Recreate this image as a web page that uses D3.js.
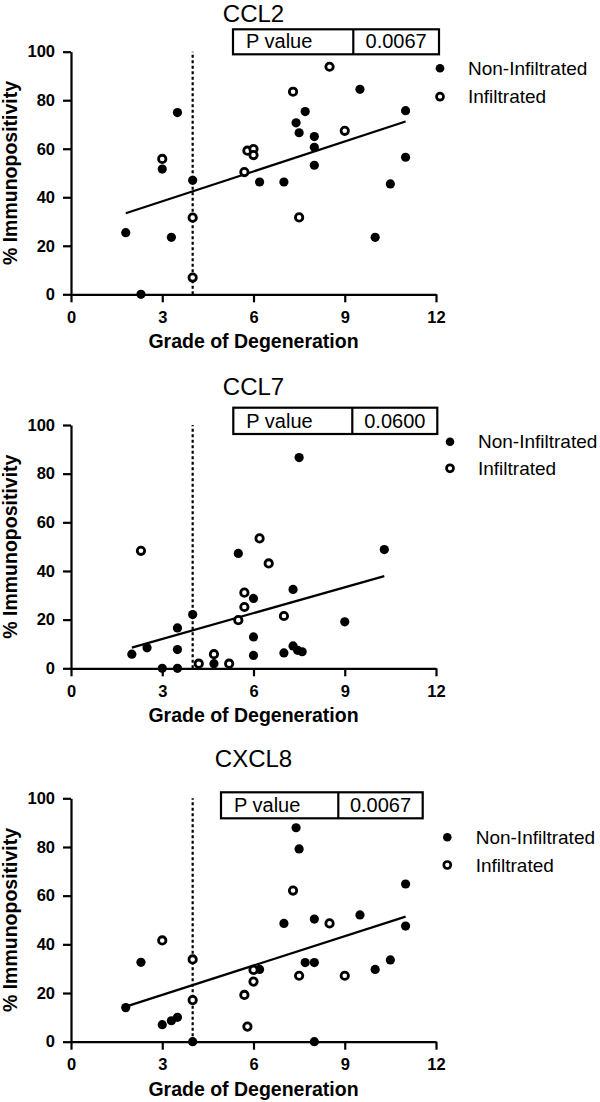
<!DOCTYPE html>
<html>
<head>
<meta charset="utf-8">
<script src="https://cdn.jsdelivr.net/npm/d3@7"></script>
<style>
  html, body { margin: 0; padding: 0; background: #fff; }
  svg { display: block; font-family: "Liberation Sans", Arial, Helvetica, sans-serif; }
</style>
</head>
<body>
<svg id="chart" width="600" height="1102"></svg>
<script>
// ---------------- DATA ----------------
const panelTitles = ["CCL2", "CCL7", "CXCL8"];
const pValues = ["0.0067", "0.0600", "0.0067"];
const xTicks = [0, 3, 6, 9, 12];
const yTicks = [0, 20, 40, 60, 80, 100];
const cutoffGrade = 4;
const legendLabels = ["Non-Infiltrated", "Infiltrated"];
const xTitle = "Grade of Degeneration";
const yTitle = "% Immunopositivity";

// [grade, % immunopositivity]
const ccl2NonInfiltrated = [[1.8,25.4],[2.3,0],[3,51.6],[3.3,23.5],[3.5,74.9],[4,47],[6.2,46.3],[7,46.3],[7.4,70.7],[7.5,66.6],[7.7,75.3],[8,65],[8,60.6],[8,53.2],[9.5,84.5],[10,23.5],[10.5,45.5],[11,75.7],[11,56.5]];
const ccl2Infiltrated = [[3,55.8],[4,31.6],[4,6.9],[5.7,50.4],[5.8,59.2],[6,59.9],[6,57.4],[7.3,83.5],[7.5,31.7],[8.5,93.8],[9,67.4]];
const ccl2Fit = [[1.8,33.4],[11,71.2]];

const ccl7NonInfiltrated = [[2,5.8],[2.5,8.4],[3,0],[3.5,0],[3.5,7.7],[3.5,16.6],[4,22.1],[4.7,1.9],[5.5,47.2],[6,28.7],[6,12.9],[6,5.3],[7,6.3],[7.3,32.4],[7.3,9.2],[7.45,7.4],[7.6,6.8],[7.5,86.6],[9,19.1],[10.3,48.8]];
const ccl7Infiltrated = [[2.3,48.3],[4.2,1.9],[4.7,5.8],[5.2,1.9],[5.5,19.8],[5.7,31.1],[5.7,25.2],[6.2,53.4],[6.5,43.1],[7,21.5]];
const ccl7Fit = [[2.0,8.5],[10.3,37.9]];

const cxcl8NonInfiltrated = [[1.8,14],[2.3,32.6],[3,7],[3.3,8.6],[3.5,10],[4,0],[6.2,29.7],[7,48.6],[7.4,87.9],[7.5,79.2],[7.7,32.5],[8,32.5],[8,50.4],[8,0],[9.5,52.1],[10,29.7],[10.5,33.6],[11,64.8],[11,47.5]];
const cxcl8Infiltrated = [[3,41.6],[4,33.8],[4,17.1],[5.7,19.2],[5.8,6.2],[6,29.5],[6,24.7],[7.3,62.1],[7.5,27.1],[8.5,48.6],[9,27.1]];
const cxcl8Fit = [[1.8,14.4],[11,51.4]];

const nonInfiltratedSets = [ccl2NonInfiltrated, ccl7NonInfiltrated, cxcl8NonInfiltrated];
const infiltratedSets = [ccl2Infiltrated, ccl7Infiltrated, cxcl8Infiltrated];
const fitSets = [ccl2Fit, ccl7Fit, cxcl8Fit];

// ---------------- LAYOUT ----------------
const layout = [
  { y0: 294.3, y100: 51.7, titleY: 22,
    box: { x: 233, y: 29.3, w: 206, h: 25, div: 353.3 },
    legend: { dotX: 440, y1: 68.3, y2: 96.7, textX: 468 } },
  { y0: 668.3, y100: 425, titleY: 394.8,
    box: { x: 233.3, y: 407.7, w: 204, h: 26.3, div: 352.3 },
    legend: { dotX: 450, y1: 441.7, y2: 468.3, textX: 478 } },
  { y0: 1041.7, y100: 798.3, titleY: 767.2,
    box: { x: 221, y: 792.3, w: 201.7, h: 26, div: 338.3 },
    legend: { dotX: 447.3, y1: 837.3, y2: 865, textX: 475.7 } }
];
const xLeft = 71, xRight = 436;
const filledR = 4.6, openR = 3.7, openStroke = 2.8;

const svg = d3.select("#chart");

layout.forEach((L, i) => {
  const x = d3.scaleLinear().domain([0, 12]).range([xLeft, xRight]);
  const y = d3.scaleLinear().domain([0, 100]).range([L.y0, L.y100]);
  const g = svg.append("g");

  // title
  g.append("text")
    .attr("x", (xLeft + xRight) / 2).attr("y", L.titleY)
    .attr("text-anchor", "middle")
    .attr("font-size", 24).attr("fill", "#000")
    .text(panelTitles[i]);

  // y axis
  const yAxis = g.append("g")
    .attr("transform", `translate(${xLeft},0)`)
    .call(d3.axisLeft(y).tickValues(yTicks).tickSize(8).tickSizeOuter(0).tickPadding(8));
  yAxis.select(".domain").attr("stroke", "#000").attr("stroke-width", 2.2);
  yAxis.selectAll(".tick line").attr("stroke", "#000").attr("stroke-width", 2.2);
  yAxis.selectAll(".tick text")
    .attr("font-size", 16.5).attr("font-weight", "bold").attr("fill", "#000")
    .attr("font-family", "'Liberation Sans', Arial, sans-serif");

  // x axis
  const xAxis = g.append("g")
    .attr("transform", `translate(0,${L.y0})`)
    .call(d3.axisBottom(x).tickValues(xTicks).tickSize(8).tickSizeOuter(0).tickPadding(6));
  xAxis.select(".domain").attr("stroke", "#000").attr("stroke-width", 2.2);
  xAxis.selectAll(".tick line").attr("stroke", "#000").attr("stroke-width", 2.2);
  xAxis.selectAll(".tick text")
    .attr("y", 28.4).attr("dy", null)
    .attr("font-size", 16.5).attr("font-weight", "bold").attr("fill", "#000")
    .attr("font-family", "'Liberation Sans', Arial, sans-serif");

  // axis titles
  g.append("text")
    .attr("x", (xLeft + xRight) / 2).attr("y", L.y0 + 54)
    .attr("text-anchor", "middle")
    .attr("font-size", 19.5).attr("font-weight", "bold").attr("fill", "#000")
    .text(xTitle);
  g.append("text")
    .attr("transform", `translate(17,${(L.y0 + L.y100) / 2}) rotate(-90)`)
    .attr("text-anchor", "middle")
    .attr("font-size", 19.5).attr("font-weight", "bold").attr("fill", "#000")
    .text(yTitle);

  // dashed cutoff line
  g.append("line")
    .attr("x1", x(cutoffGrade)).attr("x2", x(cutoffGrade))
    .attr("y1", y(0)).attr("y2", y(100))
    .attr("stroke", "#000").attr("stroke-width", 2.2)
    .attr("stroke-dasharray", "3,2.5");

  // regression line
  g.append("path")
    .datum(fitSets[i])
    .attr("d", d3.line().x(d => x(d[0])).y(d => y(d[1])))
    .attr("fill", "none").attr("stroke", "#000").attr("stroke-width", 2.2);

  // points
  g.append("g").selectAll("circle")
    .data(nonInfiltratedSets[i]).join("circle")
    .attr("cx", d => x(d[0])).attr("cy", d => y(d[1]))
    .attr("r", filledR).attr("fill", "#000");
  g.append("g").selectAll("circle")
    .data(infiltratedSets[i]).join("circle")
    .attr("cx", d => x(d[0])).attr("cy", d => y(d[1]))
    .attr("r", openR).attr("fill", "#fff")
    .attr("stroke", "#000").attr("stroke-width", openStroke);

  // P value box
  const B = L.box;
  const bg = g.append("g");
  bg.append("rect")
    .attr("x", B.x).attr("y", B.y).attr("width", B.w).attr("height", B.h)
    .attr("fill", "#fff").attr("stroke", "#000").attr("stroke-width", 2.2);
  bg.append("line")
    .attr("x1", B.div).attr("x2", B.div).attr("y1", B.y).attr("y2", B.y + B.h)
    .attr("stroke", "#000").attr("stroke-width", 2.2);
  bg.append("text")
    .attr("x", B.x + 13).attr("y", B.y + B.h - 6.3)
    .attr("font-size", 20).attr("fill", "#000")
    .text("P value");
  bg.append("text")
    .attr("x", (B.div + B.x + B.w) / 2).attr("y", B.y + B.h - 6.3)
    .attr("text-anchor", "middle")
    .attr("font-size", 20).attr("fill", "#000")
    .text(pValues[i]);

  // legend
  const Lg = L.legend;
  g.append("circle").attr("cx", Lg.dotX).attr("cy", Lg.y1).attr("r", 4.3).attr("fill", "#000");
  g.append("circle").attr("cx", Lg.dotX).attr("cy", Lg.y2).attr("r", 3.5)
    .attr("fill", "#fff").attr("stroke", "#000").attr("stroke-width", 2.7);
  g.append("text").attr("x", Lg.textX).attr("y", Lg.y1 + 6.7)
    .attr("font-size", 19).attr("fill", "#000").text(legendLabels[0]);
  g.append("text").attr("x", Lg.textX).attr("y", Lg.y2 + 6.7)
    .attr("font-size", 19).attr("fill", "#000").text(legendLabels[1]);
});
</script>
</body>
</html>
